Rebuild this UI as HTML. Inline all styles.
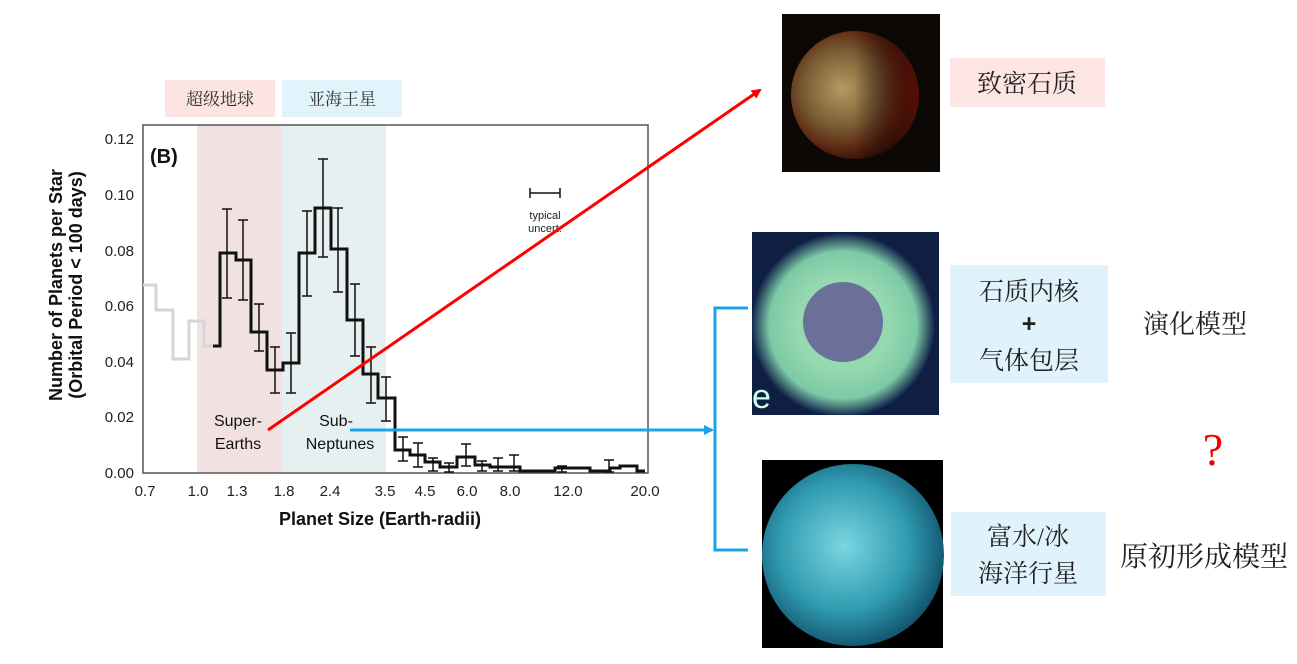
<!DOCTYPE html>
<html><head><meta charset="utf-8"><style>
html,body{margin:0;padding:0;background:#fff;}
svg{display:block;}
.s{font-family:"Liberation Sans",sans-serif;}
.c{font-family:"Liberation Serif","Noto Serif CJK SC",serif;}
</style></head><body>
<svg width="1297" height="664" viewBox="0 0 1297 664" xmlns="http://www.w3.org/2000/svg">
<defs>
<radialGradient id="g1" cx="0.4" cy="0.45" r="0.6"><stop offset="0" stop-color="#b89a62"/><stop offset="0.5" stop-color="#7a5c34"/><stop offset="0.8" stop-color="#5a2412"/><stop offset="1" stop-color="#2a0e08"/></radialGradient>
<linearGradient id="g1b" x1="0" x2="1"><stop offset="0.5" stop-color="#000" stop-opacity="0"/><stop offset="1" stop-color="#5a0f05" stop-opacity="0.9"/></linearGradient>
<radialGradient id="g2"><stop offset="0.5" stop-color="#96d8b0"/><stop offset="0.8" stop-color="#7ccaa6"/><stop offset="1" stop-color="#10204a"/></radialGradient>
<radialGradient id="g3" cx="0.45" cy="0.45" r="0.6"><stop offset="0" stop-color="#7ad6e0"/><stop offset="0.6" stop-color="#2f9ab0"/><stop offset="1" stop-color="#0e4a64"/></radialGradient>
<clipPath id="c2"><rect x="752" y="232" width="187" height="183"/></clipPath>
<marker id="ar" markerWidth="10" markerHeight="10" refX="8" refY="5" orient="auto" markerUnits="userSpaceOnUse"><path d="M0,0 L10,5 L0,10 z" fill="#f00"/></marker>
<marker id="ab" markerWidth="10" markerHeight="10" refX="8" refY="5" orient="auto" markerUnits="userSpaceOnUse"><path d="M0,0 L10,5 L0,10 z" fill="#1aa3e8"/></marker>
</defs>

<rect x="165" y="80" width="110" height="37" fill="#fbe4e2"/>
<text x="220" y="105" class="c" font-size="17" text-anchor="middle" fill="#333">超级地球</text>
<rect x="282" y="80" width="120" height="37" fill="#e1f3fb"/>
<text x="342" y="105" class="c" font-size="17" text-anchor="middle" fill="#333">亚海王星</text>

<rect x="197" y="125" width="85" height="348" fill="#f1e2e1"/>
<rect x="282" y="125" width="104" height="348" fill="#e6f0f1"/>
<rect x="143" y="125" width="505" height="348" fill="none" stroke="#555" stroke-width="1.5"/>

<g class="s" font-size="15" fill="#222" text-anchor="end">
<text x="134" y="144">0.12</text><text x="134" y="200">0.10</text><text x="134" y="256">0.08</text>
<text x="134" y="311">0.06</text><text x="134" y="367">0.04</text><text x="134" y="422">0.02</text><text x="134" y="478">0.00</text>
</g>
<g class="s" font-size="15" fill="#222" text-anchor="middle">
<text x="145" y="496">0.7</text><text x="198" y="496">1.0</text><text x="237" y="496">1.3</text><text x="284" y="496">1.8</text>
<text x="330" y="496">2.4</text><text x="385" y="496">3.5</text><text x="425" y="496">4.5</text><text x="467" y="496">6.0</text>
<text x="510" y="496">8.0</text><text x="568" y="496">12.0</text><text x="645" y="496">20.0</text>
</g>
<text x="380" y="525" class="s" font-size="18" font-weight="bold" text-anchor="middle" fill="#111">Planet Size (Earth-radii)</text>
<g transform="translate(62,285) rotate(-90)" class="s" font-size="18" font-weight="bold" fill="#111" text-anchor="middle">
<text x="0" y="0">Number of Planets per Star</text><text x="0" y="20">(Orbital Period &lt; 100 days)</text></g>
<text x="150" y="163" class="s" font-size="20" font-weight="bold" fill="#111">(B)</text>

<path d="M143,285 H156 V310 H173 V359 H189 V321 H204 V346 H218" fill="none" stroke="#d6d6d6" stroke-width="3"/>
<path d="M213,346 H220 V253 H236 V260 H251 V332 H267 V370 H283 V363 H299 V253 H315 V208 H331 V249 H347 V320 H363 V374 H378 V398 H395 V450 H410 V455 H425 V462 H440 V467 H457 V457 H475 V465 H490 V467 H520 V471 H555 V468 H590 V471 H610 V468 H620 V466 H637 V471 H645" fill="none" stroke="#111" stroke-width="3"/>
<g stroke="#111" stroke-width="1.5" fill="none">
<path d="M227,209V298M222,209H232M222,298H232"/>
<path d="M243,220V300M238,220H248M238,300H248"/>
<path d="M259,304V351M254,304H264M254,351H264"/>
<path d="M275,347V393M270,347H280M270,393H280"/>
<path d="M291,333V393M286,333H296M286,393H296"/>
<path d="M307,211V296M302,211H312M302,296H312"/>
<path d="M323,159V257M318,159H328M318,257H328"/>
<path d="M338,208V292M333,208H343M333,292H343"/>
<path d="M355,284V356M350,284H360M350,356H360"/>
<path d="M371,347V403M366,347H376M366,403H376"/>
<path d="M386,377V421M381,377H391M381,421H391"/>
<path d="M403,437V461M398,437H408M398,461H408"/>
<path d="M418,443V467M413,443H423M413,467H423"/>
<path d="M433,458V471M428,458H438M428,471H438"/>
<path d="M449,463V472M444,463H454M444,472H454"/>
<path d="M466,444V466M461,444H471M461,466H471"/>
<path d="M482,461V471M477,461H487M477,471H487"/>
<path d="M498,458V471M493,458H503M493,471H503"/>
<path d="M514,455V471M509,455H519M509,471H519"/>
<path d="M562,466V472M557,466H567M557,472H567"/>
<path d="M609,460V472M604,460H614M604,472H614"/>
<path d="M530,193H560M530,188V198M560,188V198"/>
</g>
<text x="545" y="219" class="s" font-size="11" text-anchor="middle" fill="#222">typical</text>
<text x="545" y="232" class="s" font-size="11" text-anchor="middle" fill="#222">uncert.</text>
<g class="s" font-size="16" fill="#111" text-anchor="middle">
<text x="238" y="426">Super-</text><text x="238" y="449">Earths</text>
<text x="336" y="426">Sub-</text><text x="340" y="449">Neptunes</text>
</g>

<line x1="268" y1="430" x2="760" y2="90" stroke="#f00" stroke-width="3" marker-end="url(#ar)"/>
<line x1="350" y1="430" x2="712" y2="430" stroke="#1aa3e8" stroke-width="3" marker-end="url(#ab)"/>
<path d="M748,308 H715 V550 H748" fill="none" stroke="#1aa3e8" stroke-width="3"/>

<rect x="782" y="14" width="158" height="158" fill="#0c0806"/>
<circle cx="855" cy="95" r="64" fill="url(#g1)"/>
<circle cx="855" cy="95" r="64" fill="url(#g1b)"/>
<rect x="950" y="58" width="155" height="49" fill="#fde5e3"/>
<text x="1027" y="92" class="c" font-size="25" text-anchor="middle" fill="#222">致密石质</text>

<rect x="752" y="232" width="187" height="183" fill="#0f1f42"/>
<g clip-path="url(#c2)">
<circle cx="843" cy="325" r="92" fill="url(#g2)"/>
<circle cx="843" cy="322" r="40" fill="#6b7098"/>
<text x="752" y="408" class="s" font-size="34" fill="#cfe">e</text>
</g>
<rect x="950" y="265" width="158" height="118" fill="#e0f3fc"/>
<g class="c" font-size="25" text-anchor="middle" fill="#222">
<text x="1029" y="300">石质内核</text><text x="1029" y="332" font-weight="bold" class="s">+</text><text x="1029" y="369">气体包层</text></g>
<text x="1195" y="333" class="c" font-size="26" text-anchor="middle" fill="#222">演化模型</text>
<text x="1213" y="465" class="c" font-size="46" text-anchor="middle" fill="#e00">?</text>

<rect x="762" y="460" width="181" height="188" fill="#000"/>
<circle cx="853" cy="555" r="91" fill="url(#g3)"/>
<rect x="951" y="512" width="155" height="84" fill="#e0f3fc"/>
<g class="c" font-size="25" text-anchor="middle" fill="#222">
<text x="1028" y="545">富水/冰</text><text x="1028" y="582">海洋行星</text></g>
<text x="1204" y="566" class="c" font-size="28" text-anchor="middle" fill="#222">原初形成模型</text>
</svg>
</body></html>
